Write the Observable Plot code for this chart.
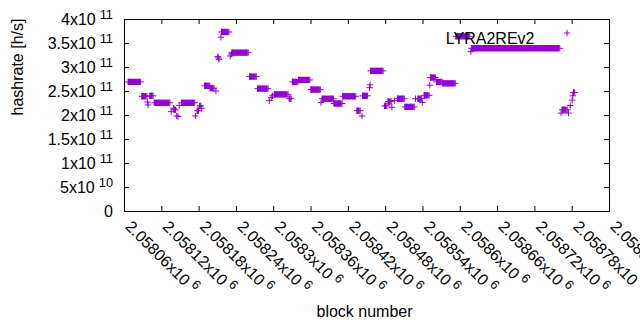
<!DOCTYPE html>
<html><head><meta charset="utf-8">
<script src="https://cdn.jsdelivr.net/npm/d3@7"></script>
<script src="https://cdn.jsdelivr.net/npm/@observablehq/plot@0.6"></script>
<style>
body{margin:0;background:#fff;}
svg{font-family:"Liberation Sans",Arial,sans-serif;}
</style>
</head><body><div id="chart"></div>
<script>
const seriesName = "LYRA2REv2";
// constant-hashrate stretches of blocks (value in units of 1e11 h/s)
const runStart = [2058066,2058088,2058101,2058108,2058140,2058152,2058177,2058181,2058189,2058198,2058216,2058233,2058261,2058274,2058301,2058325,2058330,2058340,2058360,2058378,2058397,2058411,2058434,2058443,2058456,2058478,2058484,2058499,2058511,2058532,2058542,2058552,2058562,2058572,2058593,2058618,2058764,2058782];
const runEnd   = [2058086,2058096,2058106,2058133,2058142,2058173,2058179,2058183,2058197,2058204,2058228,2058259,2058272,2058291,2058323,2058328,2058339,2058358,2058375,2058396,2058410,2058432,2058439,2058451,2058476,2058482,2058489,2058510,2058526,2058538,2058550,2058560,2058571,2058592,2058615,2058760,2058772,2058784];
const runValue = [2.70,2.40,2.41,2.265,2.12,2.265,2.10,2.20,2.62,2.57,3.74,3.31,2.81,2.56,2.44,2.35,2.70,2.74,2.54,2.35,2.25,2.40,2.10,2.41,2.93,2.20,2.29,2.35,2.18,2.35,2.42,2.79,2.70,2.67,3.65,3.40,2.12,2.48];
// isolated blocks
const pointBlock = [2058097,2058098,2058135,2058139,2058144,2058146,2058148,2058174,2058184,2058207,2058210,2058211,2058212,2058215,2058230,2058232,2058293,2058296,2058298,2058376,2058442,2058454,2058455,2058490,2058494,2058528,2058539,2058551,2058617,2058762,2058774,2058777,2058780,2058781];
const pointValue = [2.28,2.22,2.08,2.15,1.99,1.98,2.21,1.99,2.15,2.51,3.23,3.20,3.17,3.63,3.24,3.28,2.31,2.37,2.41,2.27,1.99,2.58,2.64,2.17,2.31,2.35,2.27,2.63,3.33,2.05,2.05,2.21,2.32,2.41];

const xTicks = [2058060,2058120,2058180,2058240,2058300,2058360,2058420,2058480,2058540,2058600,2058660,2058720,2058780,2058840];
const xTickBase = ["2.05806x10","2.05812x10","2.05818x10","2.05824x10","2.0583x10","2.05836x10","2.05842x10","2.05848x10","2.05854x10","2.0586x10","2.05866x10","2.05872x10","2.05878x10","2.05884x10"];
const xTickExp = ["6","6","6","6","6","6","6","6","6","6","6","6","6","6"];
const yTicks = [0,0.5e11,1e11,1.5e11,2e11,2.5e11,3e11,3.5e11,4e11];
const yTickBase = ["0","5x10","1x10","1.5x10","2x10","2.5x10","3x10","3.5x10","4x10"];
const yTickExp = ["","10","11","11","11","11","11","11","11"];
const xTitle = "block number";
const yTitle = "hashrate [h/s]";

const runs = runStart.map((s, i) => ({s, e: runEnd[i], v: runValue[i] * 1e11}));
const ends = runs.flatMap(r => [{b: r.s, v: r.v}, {b: r.e, v: r.v}]);
const pts = pointBlock.map((b, i) => ({b, v: pointValue[i] * 1e11}));

const color = "#9400d3";
const W = 640, H = 330, mL = 124, mR = 31, mT = 19, mB = 119;
const fw = W - mL - mR, fh = H - mT - mB, tk = 5;
const font = "'Liberation Sans', Arial, sans-serif";

const plot = Plot.plot({
  width: W, height: H,
  marginLeft: mL, marginRight: mR, marginTop: mT, marginBottom: mB,
  style: {fontFamily: font, fontSize: "16px", color: "black", background: "white"},
  x: {domain: [2058060, 2058840], axis: null},
  y: {domain: [0, 4e11], axis: null},
  marks: [
    Plot.tickX(xTicks, {x: d => d, insetTop: fh - tk, stroke: "black"}),
    Plot.tickX(xTicks, {x: d => d, insetBottom: fh - tk, stroke: "black"}),
    Plot.tickY(yTicks, {y: d => d, insetRight: fw - tk, stroke: "black"}),
    Plot.tickY(yTicks, {y: d => d, insetLeft: fw - tk, stroke: "black"}),
    Plot.ruleY(runs, {x1: "s", x2: "e", y: "v", stroke: color, strokeWidth: 6.4}),
    Plot.dot(ends, {x: "b", y: "v", symbol: "plus", r: 2.2, stroke: color, strokeWidth: 1}),
    Plot.dot(pts, {x: "b", y: "v", symbol: "plus", r: 2.2, stroke: color, strokeWidth: 1}),
    Plot.frame({stroke: "black"}),
    Plot.text(yTicks, {y: d => d, frameAnchor: "left", dx: -11.5, textAnchor: "end", fontSize: 16, fill: "black",
      text: (d, i) => yTickBase[i]}),
    Plot.text(xTicks, {x: d => d, frameAnchor: "bottom", dy: 16, rotate: 45, textAnchor: "start", lineAnchor: "bottom",
      fontSize: 16, fill: "black", text: (d, i) => xTickBase[i]}),
    Plot.text([seriesName], {frameAnchor: "top-right", dx: -75, dy: 13, textAnchor: "end", fontSize: 16, fill: "black", text: d => d}),
    Plot.dot([seriesName], {frameAnchor: "top-right", dx: -42.5, dy: 13.5, symbol: "plus", r: 2.2, stroke: color, strokeWidth: 1}),
    Plot.text([yTitle], {frameAnchor: "left", dx: -107, rotate: -90, fontSize: 16, fill: "black", text: d => d}),
    Plot.text([xTitle], {frameAnchor: "bottom", dx: -2.5, dy: 105, fontSize: 16, fill: "black", text: d => d})
  ]
});

// superscript exponents on tick labels
const supMap = new Map();
yTickBase.forEach((b, i) => { if (yTickExp[i]) supMap.set(b, yTickExp[i]); });
xTickBase.forEach((b, i) => supMap.set(b, xTickExp[i]));
plot.querySelectorAll("text").forEach(t => {
  const e = supMap.get(t.textContent);
  if (!e) return;
  const ts = document.createElementNS("http://www.w3.org/2000/svg", "tspan");
  ts.setAttribute("dx", "4");
  ts.setAttribute("dy", "-6");
  ts.setAttribute("font-size", "12.8");
  ts.textContent = e;
  t.appendChild(ts);
});
document.getElementById("chart").appendChild(plot);
</script>
</body></html>
